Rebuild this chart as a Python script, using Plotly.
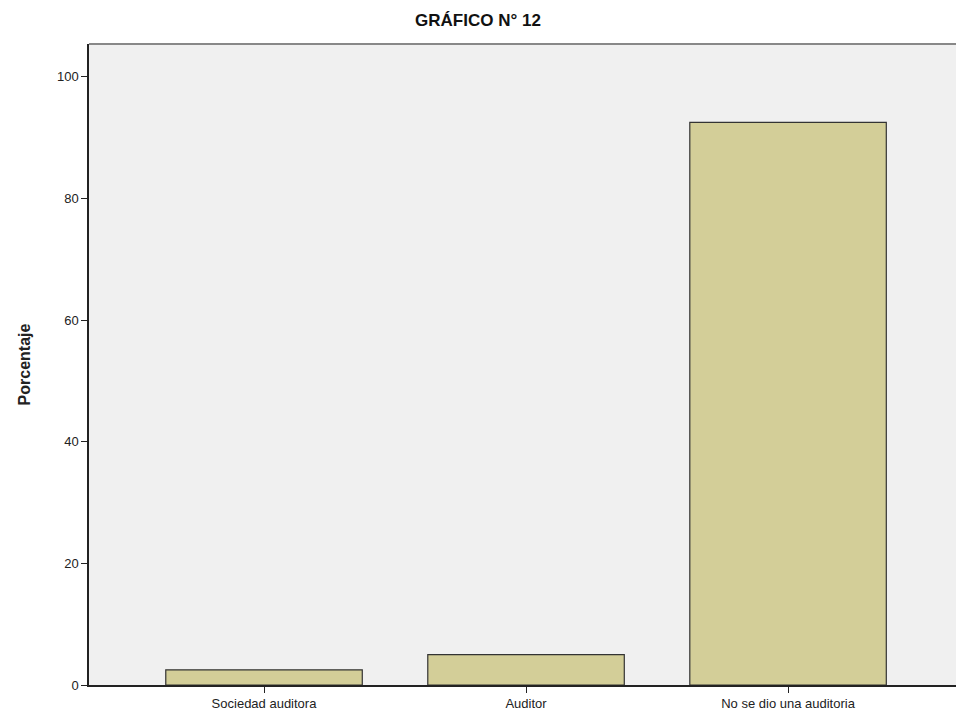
import plotly.graph_objects as go

# Datos
categorias = ["Sociedad auditora", "Auditor", "No se dio una auditoria"]
porcentajes = [2.5, 5.0, 92.5]
y_ticks = [0, 20, 40, 60, 80, 100]

fig = go.Figure(go.Bar(
    x=categorias, y=porcentajes,
    width=0.75,
    marker=dict(color="#D3CE98", line=dict(color="#333333", width=1.2)),
))

fig.add_shape(
    type="line", xref="paper", yref="paper",
    x0=0, x1=1, y0=1, y1=1,
    line=dict(color="#888888", width=2),
)

fig.update_layout(
    width=956, height=715,
    margin=dict(l=89, r=0, t=44, b=30),
    paper_bgcolor="white",
    plot_bgcolor="#F0F0F0",
    font=dict(family="Liberation Sans, Arial, sans-serif", size=13, color="#222222"),
    title=dict(text="<b>GRÁFICO N° 12</b>", x=0.5, xanchor="center",
               y=0.972, yanchor="middle", font=dict(size=17, color="#111111")),
    showlegend=False,
)

fig.update_xaxes(
    range=[-0.668, 2.641],
    showline=True, linecolor="#222222", linewidth=1.5,
    ticks="outside", ticklen=6, tickcolor="#222222",
    showgrid=False, tickfont=dict(size=13),
)
fig.update_yaxes(
    range=[0, 105.4],
    tickvals=y_ticks,
    showline=True, linecolor="#222222", linewidth=1.5,
    ticks="outside", ticklen=6, tickcolor="#222222",
    showgrid=False, zeroline=False, tickfont=dict(size=13),
    title=dict(text="<b>Porcentaje</b>", font=dict(size=16), standoff=22),
)

# quitar el margen del body para que el grafico ocupe toda la ventana
fig.write_html("out.html", config={"displayModeBar": False},
               post_script="document.body.style.margin='0';")
